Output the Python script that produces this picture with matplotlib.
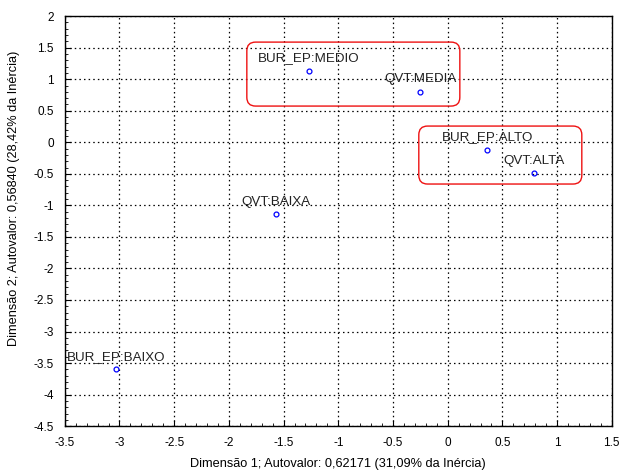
import numpy as np
import matplotlib.pyplot as plt
from matplotlib.patches import FancyBboxPatch
from matplotlib.ticker import MultipleLocator, AutoMinorLocator

plt.rcParams['font.family'] = ['Liberation Sans', 'DejaVu Sans']

# coordenadas das categorias (dimensao 1 x dimensao 2)
labels = ["BUR_EP:MEDIO", "QVT:MEDIA", "BUR_EP:ALTO", "QVT:ALTA", "QVT:BAIXA", "BUR_EP:BAIXO"]
dim1 = [-1.27, -0.25, 0.36, 0.79, -1.57, -3.03]
dim2 = [1.13, 0.80, -0.12, -0.49, -1.14, -3.60]

x_label = "Dimensão 1; Autovalor: 0,62171 (31,09% da Inércia)"
y_label = "Dimensão 2; Autovalor: 0,56840 (28,42% da Inércia)"

fig = plt.figure(figsize=(6.23, 4.74), dpi=100)
ax = fig.add_axes([0.104, 0.101, 0.878, 0.865])

ax.plot(dim1, dim2, linestyle="none", marker="o", markersize=3.5,
        markerfacecolor="none", markeredgecolor="#0000ff", markeredgewidth=0.9)

for lab, x, y in zip(labels, dim1, dim2):
    ax.annotate(lab, (x, y), xytext=(0, 9), textcoords="offset points",
                ha="center", va="center", fontsize=9.6, color="#222222")

ax.set_xlim(-3.5, 1.5)
ax.set_ylim(-4.5, 2)
ax.xaxis.set_major_locator(MultipleLocator(0.5))
ax.yaxis.set_major_locator(MultipleLocator(0.5))
ax.xaxis.set_minor_locator(AutoMinorLocator(5))
ax.yaxis.set_minor_locator(AutoMinorLocator(5))
ax.xaxis.set_major_formatter(plt.FuncFormatter(lambda v, p: f"{v:g}"))
ax.yaxis.set_major_formatter(plt.FuncFormatter(lambda v, p: f"{v:g}"))
ax.tick_params(which="both", direction="in", labelsize=8.5, colors="black")
ax.tick_params(which="major", length=4, width=0.8, pad=8)
ax.tick_params(which="minor", length=2, width=0.6)
ax.grid(True, which="major", linestyle=(0, (1.2, 2.5)), color="black", linewidth=0.9)

ax.set_xlabel(x_label, fontsize=9.2, labelpad=6)
ax.set_ylabel(y_label, fontsize=9.2)
ax.yaxis.set_label_coords(-0.082, 0.556)
for s in ax.spines.values():
    s.set_linewidth(1)

# destaques em vermelho
for (x0, y0, x1, y1) in [(-1.836, 0.574, 0.111, 1.588), (-0.264, -0.662, 1.226, 0.257)]:
    box = FancyBboxPatch((x0, y0), x1 - x0, y1 - y0,
                         boxstyle="round,pad=0,rounding_size=0.08",
                         mutation_aspect=1.73, fill=False,
                         edgecolor="#ee1111", linewidth=1, zorder=5)
    ax.add_patch(box)

fig.savefig("out.png", dpi=100)
